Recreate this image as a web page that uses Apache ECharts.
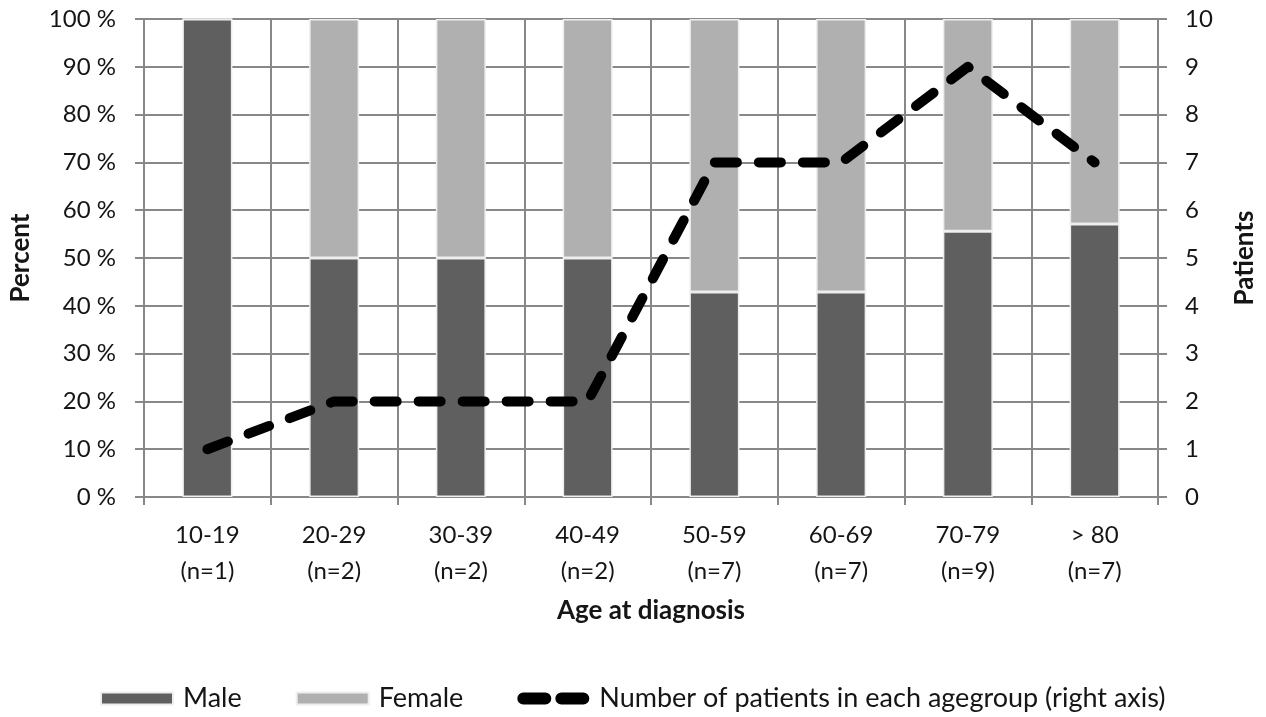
<!DOCTYPE html>
<html><head><meta charset="utf-8">
<script src="https://cdn.jsdelivr.net/npm/echarts@6/dist/echarts.min.js"></script>
<style>html,body{margin:0;padding:0;background:#fff}#c{width:1266px;height:717px}</style>
</head><body><div id="c"></div>
<script>
const categories = ['10-19\n(n=1)','20-29\n(n=2)','30-39\n(n=2)','40-49\n(n=2)','50-59\n(n=7)','60-69\n(n=7)','70-79\n(n=9)','> 80\n(n=7)'];
const malePct = [100, 50, 50, 50, 42.9, 42.9, 55.6, 57.1];
const femalePct = [0, 50, 50, 50, 57.1, 57.1, 44.4, 42.9];
const patients = [1, 2, 2, 2, 7, 7, 9, 7];

const FONT = 'Lato';
const TXT = '#151515';
const LINE_NAME = 'Number of patients in each agegroup (right axis)';
const chart = echarts.init(document.getElementById('c'));
chart.setOption({
  backgroundColor: '#fff',
  textStyle: {fontFamily: FONT, color: TXT},
  grid: {left: 142, right: 106, top: 19, bottom: 220},
  legend: {
    top: 680, left: 95, itemGap: 54,
    textStyle: {fontFamily: FONT, fontSize: 27, color: TXT, padding: [0, 0, 0, 5]},
    itemWidth: 72, itemHeight: 12,
    data: [
      {name: 'Male', icon: 'rect'},
      {name: 'Female', icon: 'rect'},
      {name: LINE_NAME, icon: 'path://M6,0 H28 A6,6 0 0 1 28,12 H6 A6,6 0 0 1 6,0 Z M44,0 H66 A6,6 0 0 1 66,12 H44 A6,6 0 0 1 44,0 Z',
       itemStyle: {color: '#000', borderWidth: 0}}
    ]
  },
  xAxis: {
    type: 'category', data: categories,
    name: 'Age at diagnosis', nameLocation: 'middle', nameGap: 101,
    nameTextStyle: {fontFamily: FONT, fontSize: 26, fontWeight: 'bold', color: TXT},
    axisLine: {lineStyle: {color: '#888', width: 2}},
    axisTick: {show: true, length: 8, lineStyle: {color: '#888', width: 2}},
    axisLabel: {fontFamily: FONT, fontSize: 24, color: TXT, margin: 20, lineHeight: 36},
    splitLine: {show: true, lineStyle: {color: '#888', width: 2}}
  },
  yAxis: [
    {
      type: 'value', min: 0, max: 100, interval: 10,
      name: 'Percent', nameLocation: 'middle', nameGap: 110, nameRotate: 90,
      nameTextStyle: {fontFamily: FONT, fontSize: 26, fontWeight: 'bold', color: TXT},
      axisLine: {show: true, lineStyle: {color: '#888', width: 2}},
      axisTick: {show: true, length: 9, lineStyle: {color: '#888', width: 2}},
      axisLabel: {fontFamily: FONT, fontSize: 24, color: TXT, margin: 28, formatter: '{value} %'},
      splitLine: {show: true, lineStyle: {color: '#888', width: 2}}
    },
    {
      type: 'value', min: 0, max: 10, interval: 1,
      name: 'Patients', nameLocation: 'middle', nameGap: 74, nameRotate: 90,
      nameTextStyle: {fontFamily: FONT, fontSize: 26, fontWeight: 'bold', color: TXT},
      axisLine: {show: true, lineStyle: {color: '#888', width: 2}},
      axisTick: {show: true, length: 9, lineStyle: {color: '#888', width: 2}},
      axisLabel: {fontFamily: FONT, fontSize: 24, color: TXT, margin: 27},
      splitLine: {show: false}
    }
  ],
  series: [
    {name: 'Male', type: 'bar', stack: 'p', data: malePct, barWidth: 50,
     itemStyle: {color: '#5f5f5f', borderColor: '#eeeeee', borderWidth: 1.5}},
    {name: 'Female', type: 'bar', stack: 'p', data: femalePct, barWidth: 50,
     itemStyle: {color: '#b0b0b0', borderColor: '#eeeeee', borderWidth: 1.5}},
    {name: LINE_NAME, type: 'line', yAxisIndex: 1,
     data: patients, symbol: 'none', z: 5,
     lineStyle: {color: '#000', width: 10, type: [22, 22], cap: 'round', join: 'round'},
     itemStyle: {color: '#000'}}
  ]
});
</script></body></html>
